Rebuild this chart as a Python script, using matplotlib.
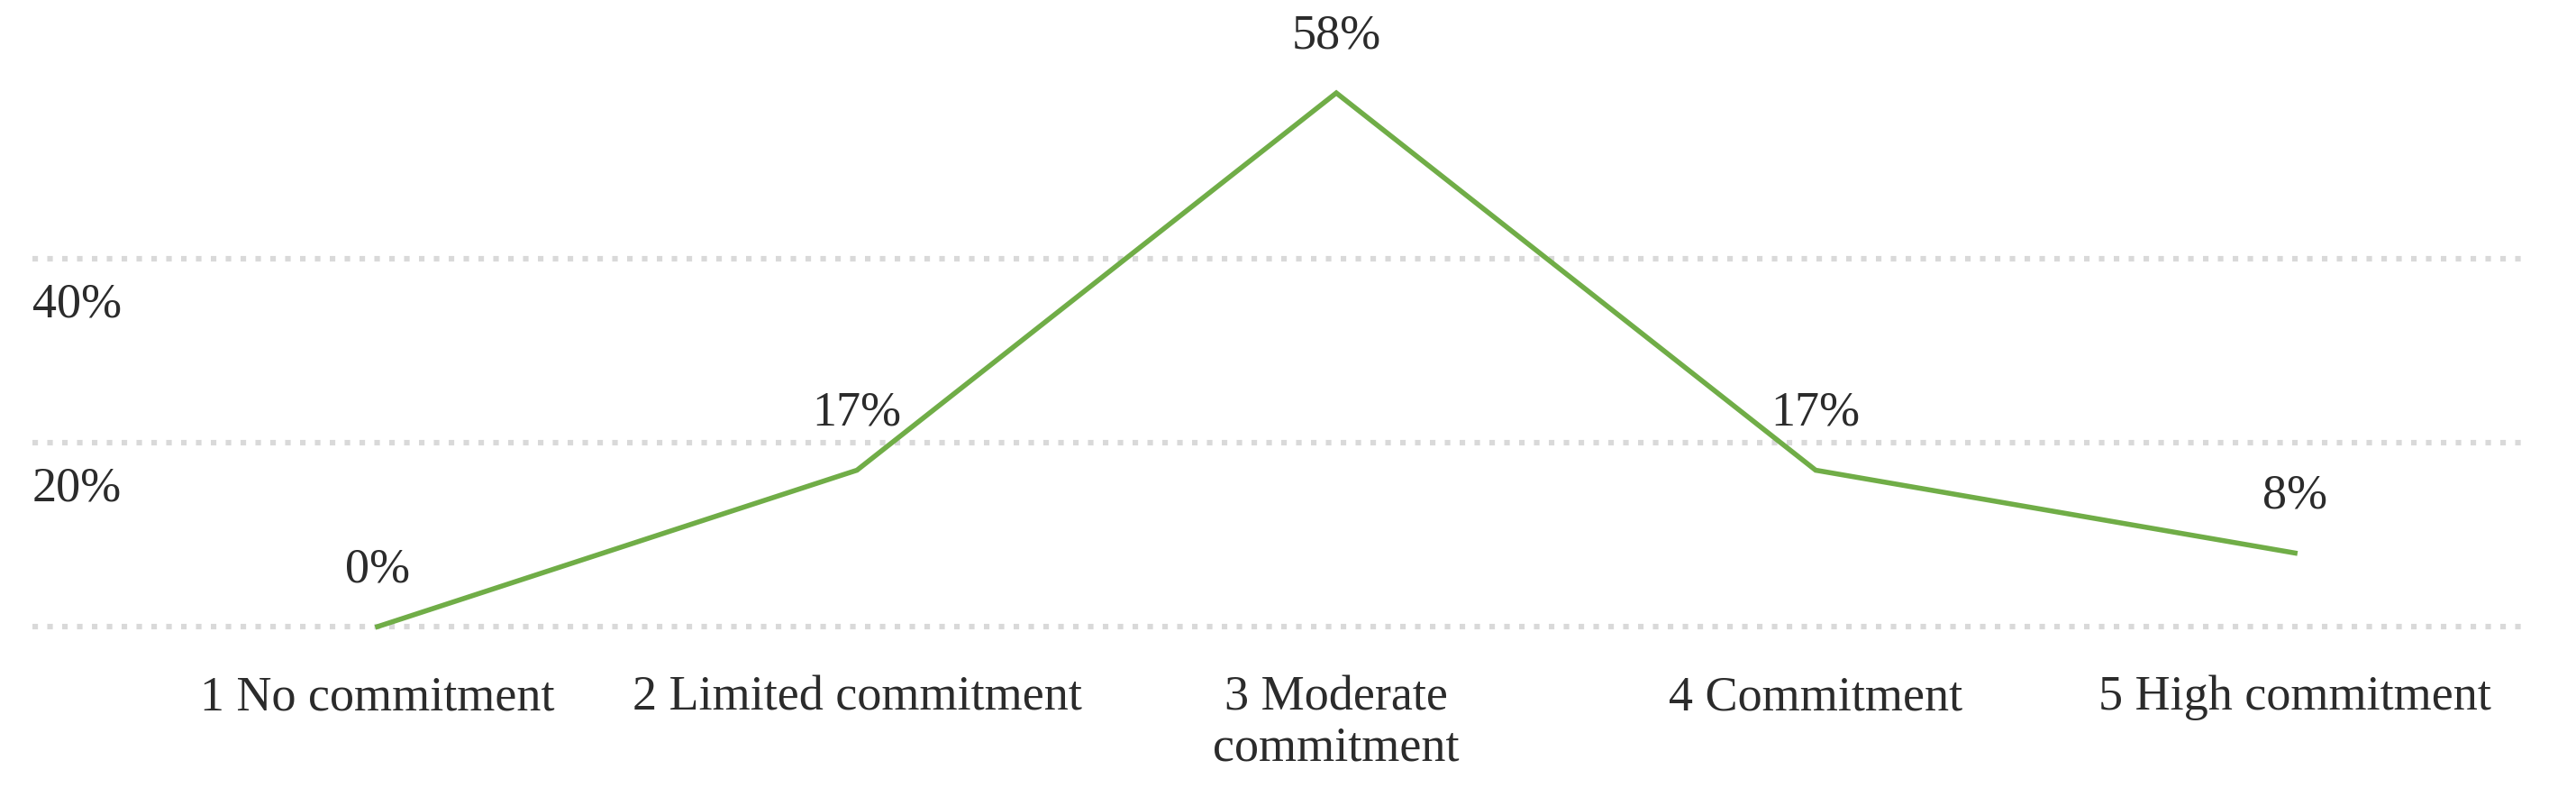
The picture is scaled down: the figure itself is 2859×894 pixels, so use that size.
import matplotlib
matplotlib.use('Agg')
import matplotlib.pyplot as plt

categories = ['1 No commitment', '2 Limited commitment', '3 Moderate\ncommitment',
              '4 Commitment', '5 High commitment']
values = [0, 17, 58, 17, 8]
y_ticks = [0, 20, 40]
y_tick_labels = ['', '20%', '40%']

plt.rcParams['font.family'] = ['Liberation Serif', 'DejaVu Serif']
TEXT_C = '#2b2b2b'
GREEN = '#70AD47'

fig = plt.figure(figsize=(14.295, 4.475), dpi=200)
ax = fig.add_axes([0.0126, 0.2223, 0.9695, 0.7777])

x = list(range(len(values)))
ax.plot(x, values, color=GREEN, linewidth=2.0, solid_joinstyle='miter', clip_on=False, zorder=3)

for xi, v in zip(x, values):
    ax.annotate(f'{v}%', (xi, v), textcoords='offset points', xytext=(0, 23),
                ha='center', va='center', fontsize=19.5, color=TEXT_C)

ax.set_xlim(-0.72, 4.49)
ax.set_ylim(0, 68.2)

ax.set_yticks(y_ticks)
ax.set_yticklabels([])
ax.tick_params(axis='y', length=0)
ax.yaxis.grid(True, color='#D9D9D9', linewidth=2.2, linestyle=(0, (1, 1.7)),
              dash_capstyle='butt')
for gl in ax.get_ygridlines():
    gl.set_clip_on(False)
ax.set_axisbelow(True)
for v, lab in zip(y_ticks, y_tick_labels):
    if lab:
        ax.annotate(lab, (0, v), xycoords=('axes fraction', 'data'), textcoords='offset points',
                    xytext=(0, -9), ha='left', va='top', fontsize=19.5, color=TEXT_C)

ax.set_xticks(x)
ax.set_xticklabels(categories, fontsize=19.5, color=TEXT_C, linespacing=1.15)
ax.tick_params(axis='x', length=0, pad=19)

for s in ax.spines.values():
    s.set_visible(False)

fig.savefig('out.png', dpi=200)
